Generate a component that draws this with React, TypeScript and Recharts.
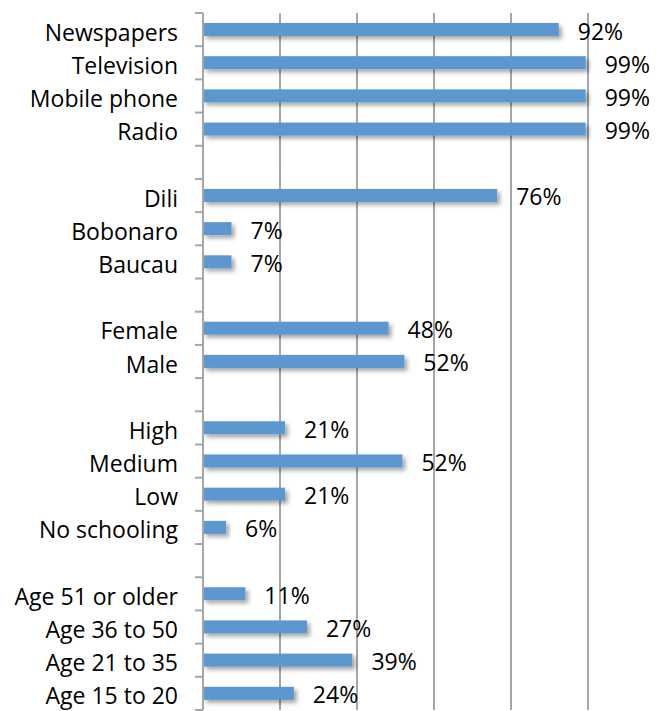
import React from "react";
import { BarChart, Bar, XAxis, YAxis, CartesianGrid, LabelList } from "recharts";

// blank strings are the gaps between groups
const categories = [
  "Newspapers",
  "Television",
  "Mobile phone",
  "Radio",
  "",
  "Dili",
  "Bobonaro",
  "Baucau",
  "",
  "Female",
  "Male",
  "",
  "High",
  "Medium",
  "Low",
  "No schooling",
  "",
  "Age 51 or older",
  "Age 36 to 50",
  "Age 21 to 35",
  "Age 15 to 20",
];

// percent, null for the gap rows
const shares: (number | null)[] = [
  92.4, 99.4, 99.4, 99.4, null,
  76.4, 7.4, 7.4, null,
  48.2, 52.3, null,
  21.3, 51.8, 21.3, 6.0, null,
  11.0, 27.0, 38.8, 23.6,
];

const xTicks = [0, 20, 40, 60, 80, 100];

const data = categories.map((name, i) => ({
  id: String(i),
  name,
  value: shares[i],
}));

const FONT = "'Open Sans', 'Noto Sans', sans-serif";
const GREY = "#a6a6a6";
const BLUE = "#5b97d0";
const LABEL_GAP = 25;

function CategoryTick(props: any) {
  const { x, y, payload, index } = props;
  const half = payload?.offset ?? 16.6;
  const axisX = x + LABEL_GAP;
  const i = index ?? payload?.index ?? 0;
  return (
    <g>
      <line x1={axisX - 8} x2={axisX} y1={y - half} y2={y - half} stroke={GREY} strokeWidth={2} />
      {i === categories.length - 1 && (
        <line x1={axisX - 8} x2={axisX} y1={y + half} y2={y + half} stroke={GREY} strokeWidth={2} />
      )}
      <text
        x={x}
        y={y}
        dy={11}
        textAnchor="end"
        fontFamily={FONT}
        fontSize={23}
        fill="#000"
      >
        {categories[i]}
      </text>
    </g>
  );
}

function ValueLabel(props: any) {
  const { x, y, width, height, value } = props;
  if (value == null) return null;
  return (
    <text
      x={x + width + 19}
      y={y + height / 2}
      dy={10}
      textAnchor="start"
      fontFamily={FONT}
      fontSize={23}
      fill="#000"
    >
      {Math.round(value)}%
    </text>
  );
}

function ShadowBar(props: any) {
  const { x, y, width, height } = props;
  if (!width || width <= 0) return null;
  return <rect x={x} y={y} width={width} height={height} fill={BLUE} filter="url(#barShadow)" />;
}

export default function App() {
  return (
    <div style={{ position: "absolute", left: 0, top: 0, background: "#fff" }}>
      <BarChart
        width={659}
        height={711}
        data={data}
        layout="vertical"
        margin={{ top: 13, right: 71, bottom: 1, left: 0 }}
        barCategoryGap={0}
      >
        <defs>
          <filter id="barShadow" x="-10%" y="-60%" width="130%" height="260%">
            <feDropShadow dx={3} dy={3} stdDeviation={2} floodColor="#000" floodOpacity={0.35} />
          </filter>
        </defs>
        <CartesianGrid horizontal={false} stroke={GREY} strokeWidth={2} />
        <XAxis type="number" domain={[0, 100]} ticks={xTicks} hide />
        <YAxis
          type="category"
          dataKey="id"
          width={203}
          axisLine={{ stroke: GREY, strokeWidth: 2 }}
          tickLine={false}
          tickSize={0}
          tickMargin={LABEL_GAP}
          interval={0}
          tick={<CategoryTick />}
        />
        <Bar dataKey="value" barSize={13} isAnimationActive={false} shape={<ShadowBar />}>
          <LabelList dataKey="value" content={<ValueLabel />} />
        </Bar>
      </BarChart>
    </div>
  );
}
